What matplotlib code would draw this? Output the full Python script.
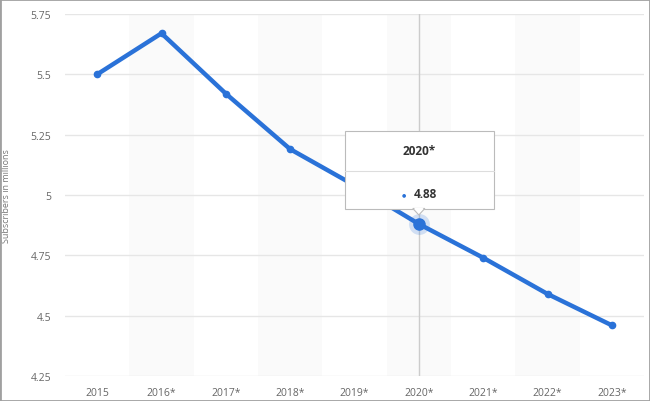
import matplotlib.pyplot as plt
import numpy as np
from matplotlib.patches import Rectangle, Polygon

plt.rcParams["font.family"] = ["Open Sans", "DejaVu Sans"]

# data
years = ["2015", "2016*", "2017*", "2018*", "2019*", "2020*", "2021*", "2022*", "2023*"]
subscribers = [5.50, 5.67, 5.42, 5.19, 5.04, 4.88, 4.74, 4.59, 4.46]
y_ticks = [4.25, 4.5, 4.75, 5, 5.25, 5.5, 5.75]
y_tick_labels = ["4.25", "4.5", "4.75", "5", "5.25", "5.5", "5.75"]
highlight = 5  # index of hovered point (2020*)

blue = "#2a72d8"
W, H = 650, 402

fig = plt.figure(figsize=(W / 100, H / 100), dpi=100)
ax = fig.add_axes([65 / W, 1 - 377 / H, (644 - 65) / W, (377 - 15) / H])

x = np.arange(len(years))

# alternating column bands
for i in x:
    if i % 2 == 1:
        ax.axvspan(i - 0.5, i + 0.5, color="#fafafa", zorder=0, lw=0)

ax.set_yticks(y_ticks)
ax.set_yticklabels(y_tick_labels)
ax.grid(axis="y", color="#e6e6e6", lw=1, zorder=1)
ax.set_xticks(x)
ax.set_xticklabels(years)
ax.set_xlim(-0.5, len(years) - 0.5)
ax.set_ylim(4.25, 5.75)

for s in ax.spines.values():
    s.set_visible(False)
ax.tick_params(axis="both", length=0, labelsize=7.5, colors="#666666")
ax.tick_params(axis="x", pad=8)
ax.tick_params(axis="y", pad=10)
ax.set_ylabel("Subscribers in millions", fontsize=6.5, color="#777777", labelpad=14)

# hover crosshair
ax.axvline(highlight, color="#cccccc", lw=1, zorder=2)

ax.plot(x, subscribers, color=blue, lw=3.2, marker="o", ms=4.5, zorder=3,
        solid_capstyle="round")
ax.plot(x[highlight], subscribers[highlight], "o", ms=15, color=blue, alpha=0.2,
        mec="none", zorder=4)
ax.plot(x[highlight], subscribers[highlight], "o", ms=8, color=blue, zorder=5)

# tooltip, placed in pixels relative to the hovered point
px, py = ax.transData.transform((x[highlight], subscribers[highlight]))
inv = fig.transFigure.inverted()


def fpos(dx, dy):
    return inv.transform((px + dx, py + dy))


l, b = fpos(-74, 15)
r, t = fpos(75, 93)
box = Rectangle((l, b), r - l, t - b, transform=fig.transFigure, facecolor="white",
                edgecolor="#bbbbbb", lw=0.8, zorder=10)
fig.patches.append(box)
tri = Polygon([fpos(-6, 15.5), fpos(6, 15.5), fpos(0, 9)], closed=True,
              transform=fig.transFigure, facecolor="white", edgecolor="#bbbbbb",
              lw=0.8, zorder=11)
fig.patches.append(tri)
tri2 = Polygon([fpos(-5, 16.2), fpos(5, 16.2), fpos(0, 10.5)], closed=True,
               transform=fig.transFigure, facecolor="white", edgecolor="none", zorder=12)
fig.patches.append(tri2)
sl, sy = fpos(-74, 53)
sr, _ = fpos(75, 53)
fig.add_artist(plt.Line2D([sl, sr], [sy, sy], transform=fig.transFigure,
                          color="#dddddd", lw=0.8, zorder=13))
hx, hy = fpos(0, 73)
fig.text(hx, hy, years[highlight], ha="center", va="center", fontsize=8.5,
         fontweight="bold", color="#333333", zorder=14)
vx, vy = fpos(-15, 30)
fig.text(vx, vy, "\u25cf", ha="center", va="center", fontsize=3.5, color=blue, zorder=14)
tx, ty = fpos(-5, 30)
fig.text(tx, ty, f"{subscribers[highlight]:.2f}", ha="left", va="center",
         fontsize=8.5, fontweight="bold", color="#333333", zorder=14)

# outer frame
fig.patches.append(Rectangle((0, 0), 1, 1, transform=fig.transFigure, fill=False,
                             edgecolor="#a0a0a0", lw=2, zorder=20))

fig.savefig("out.png", dpi=100)
